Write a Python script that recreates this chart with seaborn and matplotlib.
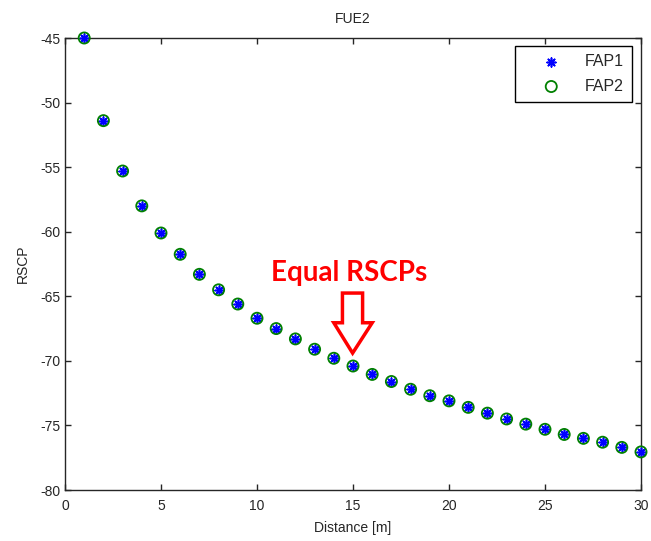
import matplotlib
matplotlib.use("Agg")
import matplotlib.pyplot as plt
from matplotlib.patches import Polygon
import seaborn as sns
import pandas as pd

distance = list(range(1, 31))
fap1 = [-45.0, -51.4, -55.3, -58.0, -60.1, -61.75, -63.3, -64.5, -65.6, -66.7,
        -67.5, -68.3, -69.1, -69.8, -70.4, -71.05, -71.6, -72.2, -72.7, -73.1,
        -73.6, -74.05, -74.5, -74.9, -75.3, -75.7, -76.0, -76.3, -76.7, -77.05]
fap2 = list(fap1)
series_names = ["FAP1", "FAP2"]
x_ticks = [0, 5, 10, 15, 20, 25, 30]
y_ticks = [-80, -75, -70, -65, -60, -55, -50, -45]

sns.set_theme(style="ticks")
plt.rcParams["font.family"] = ["Liberation Sans", "DejaVu Sans"]
plt.rcParams.update({
    "xtick.direction": "in", "ytick.direction": "in",
    "xtick.top": True, "ytick.right": True,
    "axes.linewidth": 1.0, "axes.edgecolor": "#262626",
    "axes.unicode_minus": False,
})

df = pd.DataFrame({"Distance": distance, "FAP1": fap1, "FAP2": fap2})

fig = plt.figure(figsize=(6.51, 5.41), dpi=100)
ax = fig.add_axes([65 / 651, 1 - 490 / 541, 576 / 651, 452 / 541])

sns.scatterplot(data=df, x="Distance", y="FAP1", ax=ax, marker=(8, 2, 0), s=40,
                color="blue", linewidth=1.2, edgecolor="blue", label=series_names[0],
                zorder=3, clip_on=False)
sns.scatterplot(data=df, x="Distance", y="FAP2", ax=ax, marker="o", s=64,
                facecolor="none", edgecolor="green", linewidth=1.3, label=series_names[1],
                zorder=4, clip_on=False)

ax.set_xlim(0, 30)
ax.set_ylim(-80, -45)
ax.set_xticks(x_ticks)
ax.set_yticks(y_ticks)
ax.tick_params(labelsize=10, length=4, width=1, colors="#262626")
ax.tick_params(axis="x", pad=6.5)
ax.tick_params(axis="y", pad=3)
ax.set_xlabel("Distance [m]", fontsize=10, labelpad=6)
ax.set_ylabel("RSCP", fontsize=10, labelpad=8)
ax.set_title("FUE2", fontsize=10, pad=11)
for s in ax.spines.values():
    s.set_visible(True)

leg = ax.legend(loc="upper right", fontsize=11.5, frameon=True, fancybox=False,
                edgecolor="black", framealpha=1, borderpad=0.5, handlelength=3.6,
                handletextpad=0.3, labelspacing=0.6, borderaxespad=0,
                bbox_to_anchor=(0.984, 0.982))
leg.get_frame().set_linewidth(1.0)

# annotation: text + hollow arrow
ax.text(14.8, -63.2, "Equal RSCPs", color="red", fontsize=20, fontweight="bold",
        family="Lato", ha="center", va="center")
arrow = Polygon([(14.45, -64.75), (15.5, -64.75), (15.5, -67.05), (16.0, -67.05),
                 (14.98, -69.4), (14.0, -67.05), (14.45, -67.05)],
                closed=True, facecolor="white", edgecolor="red", linewidth=2.5, zorder=5)
ax.add_patch(arrow)

fig.savefig("out.png", dpi=100)
